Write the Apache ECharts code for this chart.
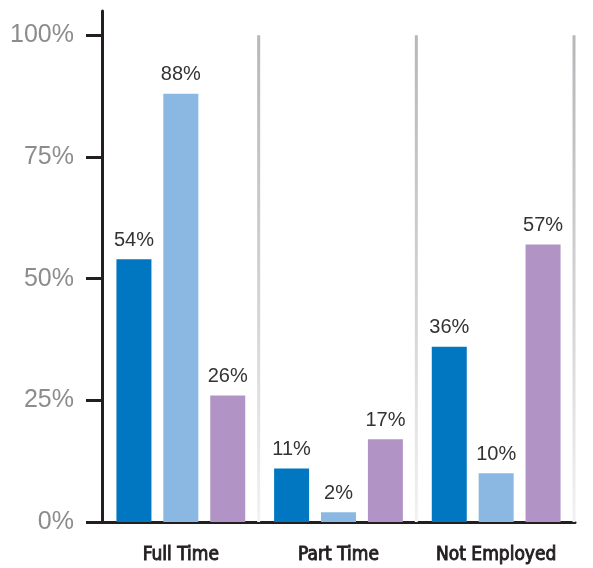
<!DOCTYPE html>
<html>
<head>
<meta charset="utf-8">
<script src="https://cdn.jsdelivr.net/npm/echarts@6/dist/echarts.min.js"></script>
<style>
  html, body { margin: 0; padding: 0; background: #ffffff; }
  #chart { width: 593px; height: 568px; }
</style>
</head>
<body>
<div id="chart"></div>
<script>
// Employment status, three groups per category
const categories = ['Full Time', 'Part Time', 'Not Employed'];
const groupA = [54, 11, 36];
const groupB = [88, 2, 10];
const groupC = [26, 17, 57];
const yTicks = [0, 25, 50, 75, 100];
const colors = ['#0077c0', '#8ab8e2', '#b193c5'];

const chart = echarts.init(document.getElementById('chart'), null, { renderer: 'canvas' });

const valueLabel = {
  show: true,
  position: 'top',
  distance: 9,
  formatter: '{c}%',
  color: '#333333',
  fontSize: 20,
  fontFamily: '"Liberation Sans", Arial, sans-serif'
};

function barSeries(name, data, color) {
  return {
    name: name,
    type: 'bar',
    data: data,
    barWidth: 35,
    barGap: '34%',
    itemStyle: { color: color },
    label: valueLabel,
    z: 3
  };
}

// Vertical separators on the right edge of each category band
const separatorSeries = {
  type: 'custom',
  silent: true,
  z: 1,
  data: categories.map((c, i) => [i, 100]),
  renderItem: function (params, api) {
    const idx = api.value(0);
    const band = api.size([1, 0])[0];
    const top = api.coord([idx, api.value(1)]);
    const bottom = api.coord([idx, 0]);
    const x = top[0] + band / 2;
    return {
      type: 'rect',
      shape: { x: x - 2.5, y: top[1], width: 3, height: bottom[1] - top[1] },
      style: {
        fill: new echarts.graphic.LinearGradient(0, 0, 0, 1, [
          { offset: 0, color: '#b7b7bb' },
          { offset: 0.6, color: '#d6d6d8' },
          { offset: 1, color: '#f2f2f2' }
        ])
      }
    };
  }
};

chart.setOption({
  animation: false,
  backgroundColor: '#ffffff',
  grid: { left: 102, right: 18, top: 11, bottom: 46, containLabel: false },
  xAxis: {
    type: 'category',
    data: categories,
    axisLine: { show: true, lineStyle: { color: '#231f20', width: 3 } },
    axisTick: { show: false },
    axisLabel: {
      interval: 0,
      color: '#231f20',
      fontSize: 19,
      textBorderColor: '#231f20',
      textBorderWidth: 0.9,
      margin: 24,
      fontFamily: '"DejaVu Sans Condensed", "Liberation Sans Narrow", sans-serif'
    },
    splitLine: { show: false }
  },
  yAxis: {
    type: 'value',
    min: 0,
    max: 105,
    interval: 25,
    axisLine: { show: true, lineStyle: { color: '#231f20', width: 3 } },
    axisTick: {
      show: true,
      length: 16,
      customValues: yTicks,
      lineStyle: { color: '#231f20', width: 3 }
    },
    axisLabel: {
      customValues: yTicks,
      formatter: '{value}%',
      color: '#8c8c8c',
      fontSize: 25,
      margin: 28,
      fontFamily: '"Liberation Sans", Arial, sans-serif'
    },
    splitLine: { show: false }
  },
  series: [
    separatorSeries,
    barSeries('Group A', groupA, colors[0]),
    barSeries('Group B', groupB, colors[1]),
    barSeries('Group C', groupC, colors[2])
  ]
});
</script>
</body>
</html>
